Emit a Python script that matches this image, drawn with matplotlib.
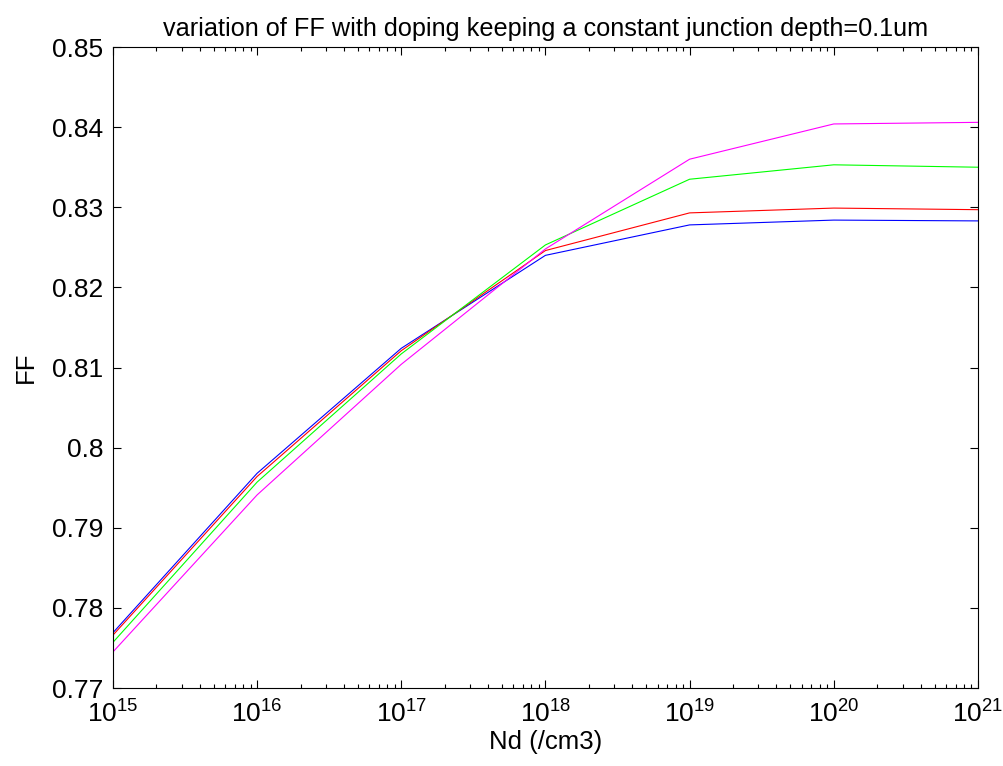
import matplotlib
matplotlib.use("Agg")
import matplotlib.pyplot as plt
import numpy as np
from matplotlib.ticker import LogLocator, FixedLocator

plt.rcParams['font.family'] = ['Liberation Sans', 'DejaVu Sans']
plt.rcParams['mathtext.fontset'] = 'custom'
plt.rcParams['mathtext.rm'] = 'Liberation Sans'

# doping levels (/cm3)
Nd = [1e15, 1e16, 1e17, 1e18, 1e19, 1e20, 1e21]

# FF values
ff_blue = [0.7769, 0.7968, 0.8124, 0.8240, 0.8278, 0.8284, 0.8283]
ff_red = [0.7766, 0.7964, 0.8121, 0.8246, 0.8293, 0.8299, 0.8297]
ff_green = [0.7757, 0.7957, 0.8117, 0.8253, 0.8335, 0.8353, 0.8350]
ff_magenta = [0.7745, 0.7941, 0.8104, 0.8248, 0.8360, 0.8404, 0.8406]

fig = plt.figure(figsize=(10.04, 7.66), dpi=100)
ax = fig.add_axes([0.1125, 0.1018, 0.8615, 0.8368])

ax.plot(Nd, ff_blue, color='#0000ff', lw=0.8)
ax.plot(Nd, ff_red, color='#ff0000', lw=0.8)
ax.plot(Nd, ff_green, color='#00ff00', lw=0.8)
ax.plot(Nd, ff_magenta, color='#ff00ff', lw=0.8)

ax.set_xscale('log')
ax.set_xlim(1e15, 1e21)
ax.set_ylim(0.77, 0.85)
ax.yaxis.set_major_locator(FixedLocator(np.arange(0.77, 0.8501, 0.01)))
ax.set_yticklabels(['0.77', '0.78', '0.79', '0.8', '0.81', '0.82', '0.83', '0.84', '0.85'])
ax.xaxis.set_major_locator(FixedLocator(Nd))
ax.set_xticklabels(['$\\mathregular{10^{%d}}$' % e for e in range(15, 22)])
ax.xaxis.set_minor_locator(LogLocator(base=10, subs=np.arange(2, 10), numticks=20))

ax.tick_params(which='major', direction='in', top=True, right=True, length=6, width=0.8, labelsize=19)
ax.tick_params(which='minor', direction='in', top=True, right=True, length=3, width=0.8)
ax.tick_params(axis='y', which='major', pad=7)
ax.tick_params(axis='x', which='major', pad=9)
for s in ax.spines.values():
    s.set_linewidth(0.8)

ax.set_xlabel('Nd (/cm3)', fontsize=18.5, labelpad=2)
ax.set_ylabel('FF', fontsize=18.5, labelpad=10)
ax.set_title('variation of FF with doping keeping a constant junction depth=0.1um', fontsize=18.2, pad=8)

fig.savefig('out.png', dpi=100)
